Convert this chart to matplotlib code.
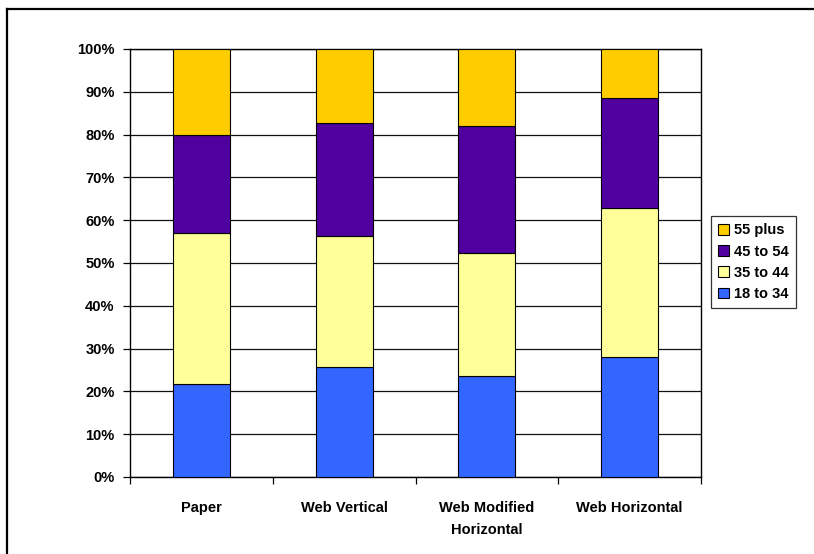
import matplotlib
matplotlib.use("Agg")
import matplotlib.pyplot as plt
from matplotlib.lines import Line2D
from matplotlib.ticker import FixedLocator, NullFormatter
import numpy as np

plt.rcParams['font.family'] = ['Liberation Sans', 'DejaVu Sans']
plt.rcParams['font.weight'] = 'bold'

categories = ["Paper", "Web Vertical", "Web Modified\nHorizontal", "Web Horizontal"]
series_names = ["18 to 34", "35 to 44", "45 to 54", "55 plus"]
age_18_34 = [21.7, 25.6, 23.6, 28.1]
age_35_44 = [35.2, 30.7, 28.7, 34.7]
age_45_54 = [22.9, 26.5, 29.6, 25.8]
age_55_plus = [20.2, 17.2, 18.1, 11.4]
colors = ["#3366FF", "#FFFF99", "#50009F", "#FFCC00"]
y_ticks = [0, 10, 20, 30, 40, 50, 60, 70, 80, 90, 100]

fig = plt.figure(figsize=(8.14, 5.54), dpi=100)
ax = fig.add_axes([130 / 814, 1 - 477 / 554, (701 - 130) / 814, (477 - 49) / 554])

x = np.arange(len(categories))
bottom = np.zeros(len(categories))
handles = []
for name, vals, col in zip(series_names, [age_18_34, age_35_44, age_45_54, age_55_plus], colors):
    b = ax.bar(x, vals, width=0.4, bottom=bottom, color=col, edgecolor="black",
               linewidth=0.8, label=name, zorder=3)
    handles.append(b)
    bottom += np.array(vals)

ax.set_xlim(-0.5, len(categories) - 0.5)
ax.set_ylim(0, 100)
ax.set_yticks(y_ticks)
ax.set_yticklabels([f"{t}%" for t in y_ticks], fontsize=10.5, fontweight="bold")
ax.yaxis.grid(True, color="#111111", linewidth=0.9, zorder=0)
ax.tick_params(axis="y", direction="out", length=5, width=0.9, pad=6)

ax.set_xticks(x)
ax.set_xticklabels(categories, fontsize=10.5, fontweight="bold", linespacing=1.8)
ax.tick_params(axis="x", which="major", length=0, pad=17)
ax.xaxis.set_minor_locator(FixedLocator(np.arange(-0.5, len(categories), 1.0)))
ax.xaxis.set_minor_formatter(NullFormatter())
ax.tick_params(axis="x", which="minor", direction="out", length=5, width=0.9)

for side in ["left", "bottom", "top", "right"]:
    ax.spines[side].set_linewidth(1.0)
    ax.spines[side].set_color("black")

leg = ax.legend(handles[::-1], series_names[::-1], loc="upper left",
                bbox_to_anchor=(711 / 814, 1 - 216 / 554), bbox_transform=fig.transFigure,
                frameon=True, fancybox=False, edgecolor="black", fontsize=10.5,
                handlelength=0.75, handleheight=0.75, handletextpad=0.3,
                labelspacing=0.5, borderpad=0.5, borderaxespad=0)
leg.get_frame().set_linewidth(0.9)

# outer frame lines (top and left edges)
fig.add_artist(Line2D([7 / 814, 1.0], [1 - 9 / 554, 1 - 9 / 554], transform=fig.transFigure,
                      color="black", linewidth=1.6))
fig.add_artist(Line2D([7 / 814, 7 / 814], [0.0, 1 - 9 / 554], transform=fig.transFigure,
                      color="black", linewidth=1.6))

fig.savefig("out.png", dpi=100)
